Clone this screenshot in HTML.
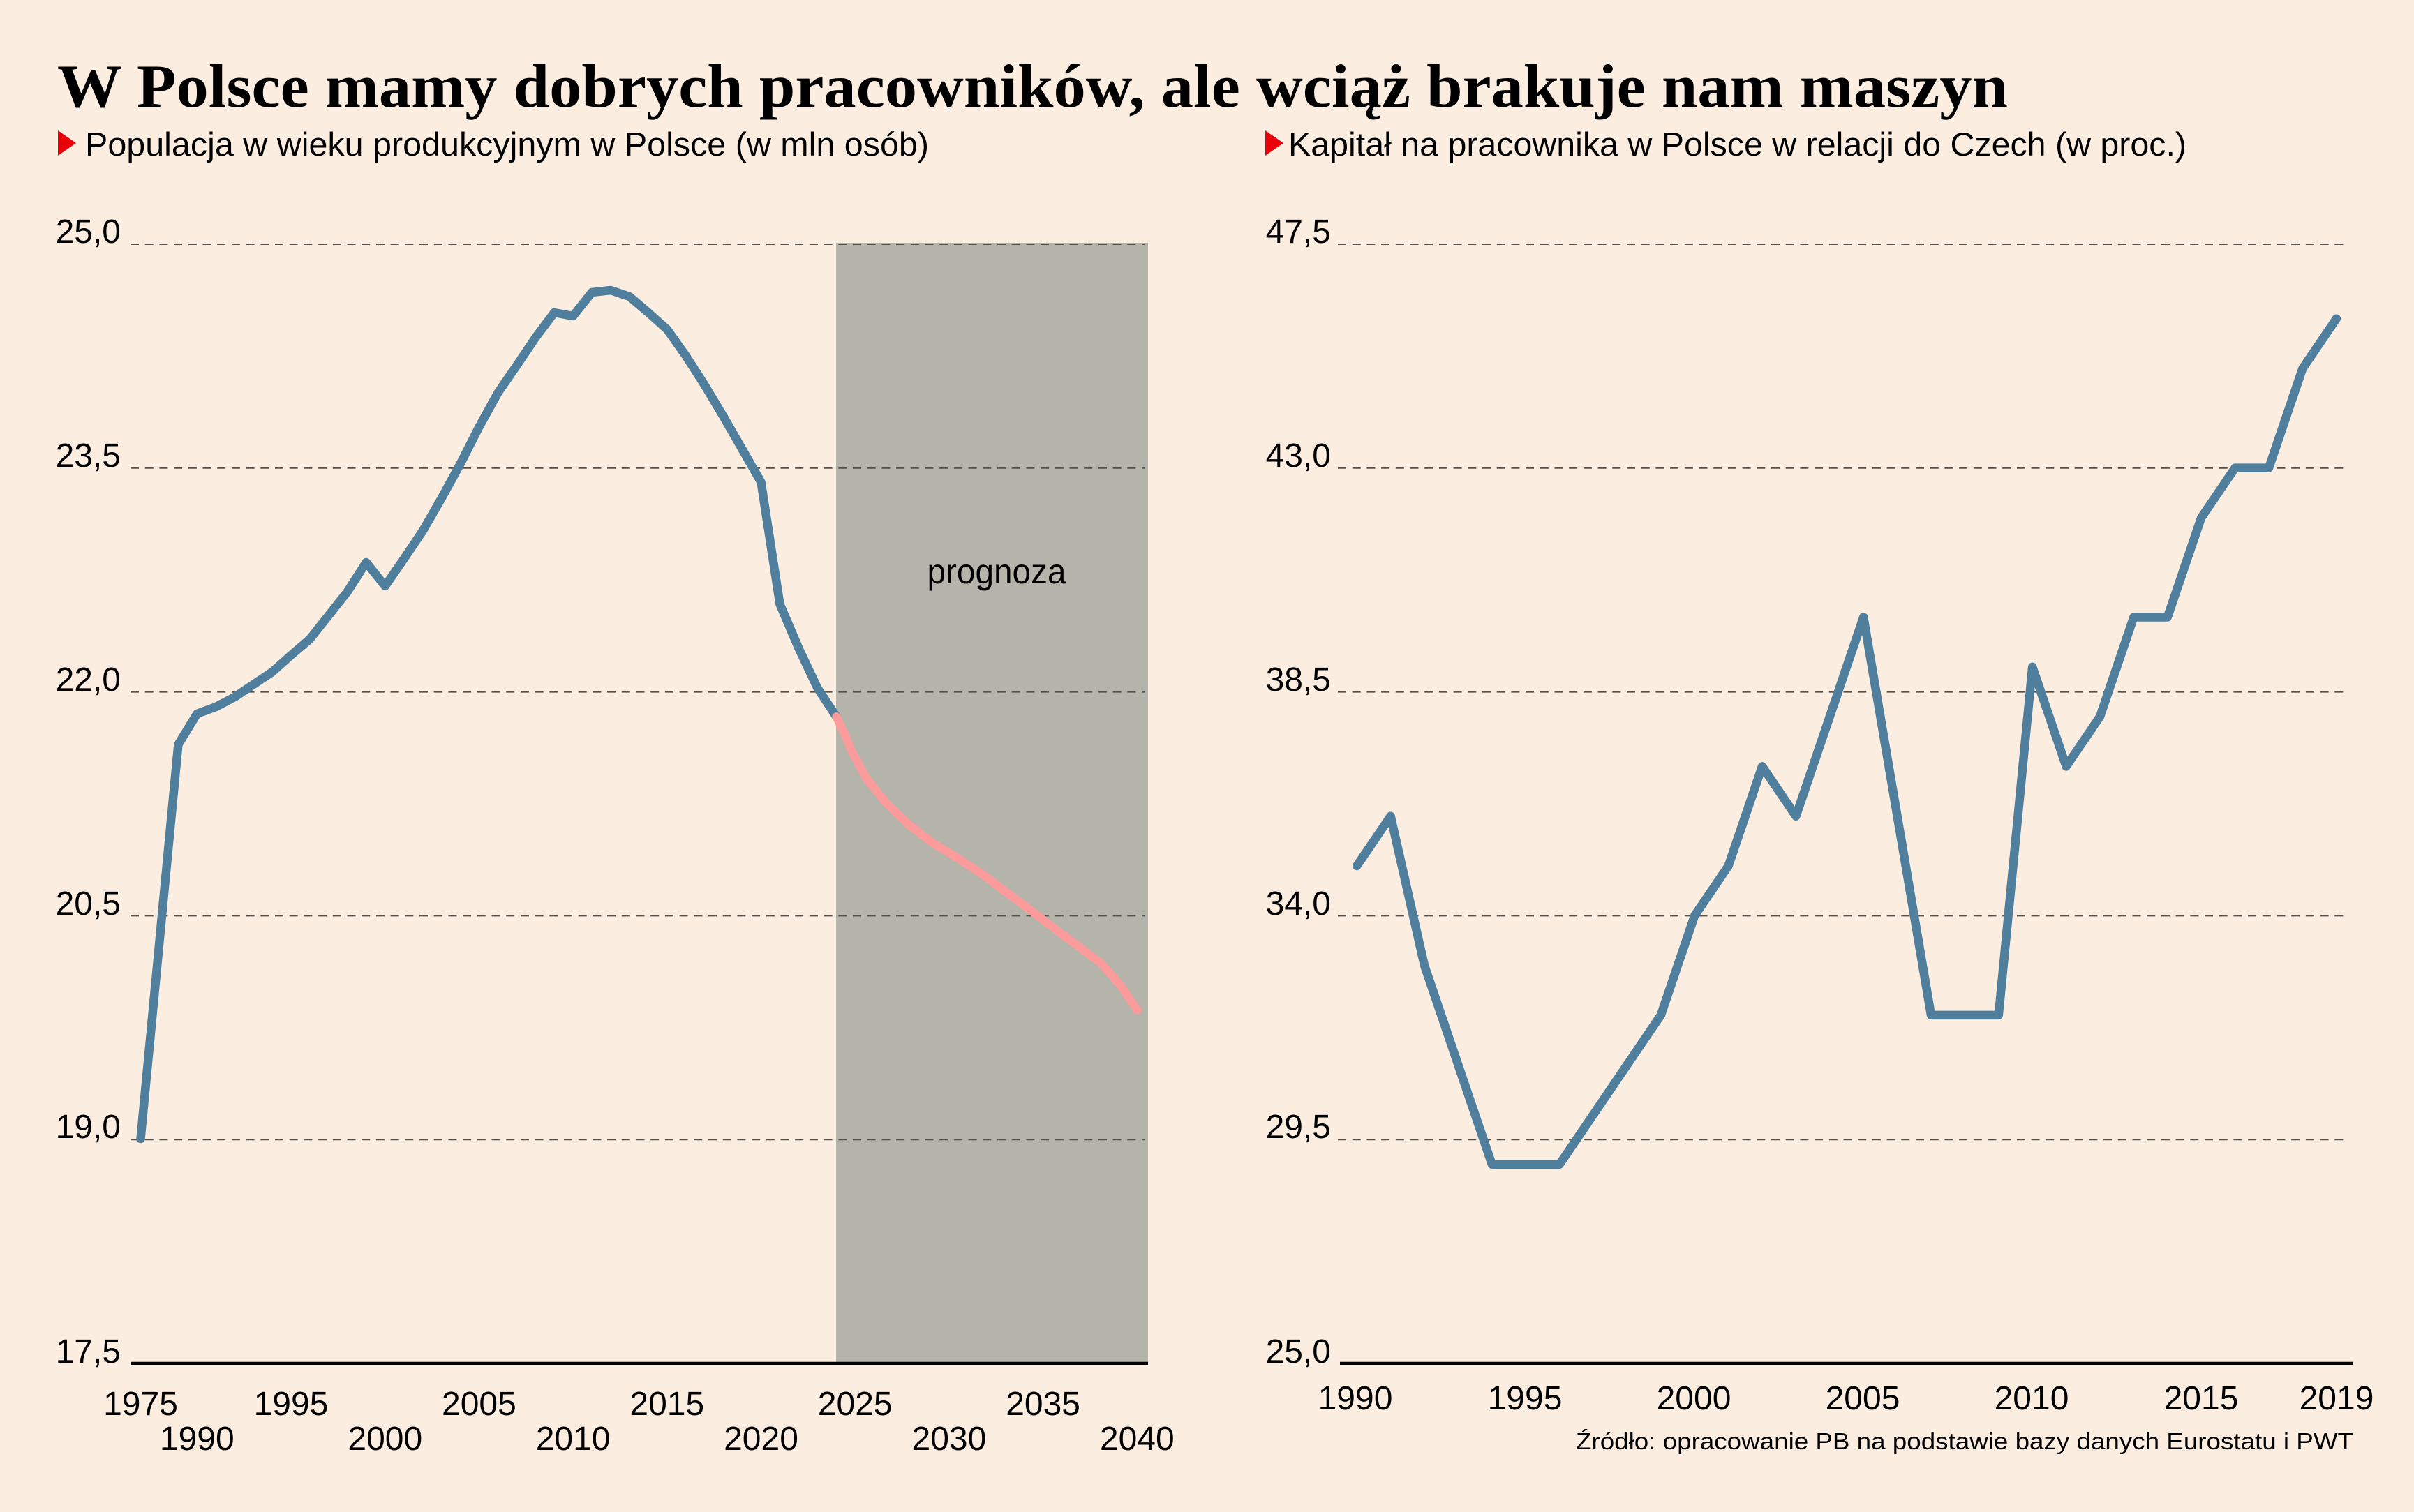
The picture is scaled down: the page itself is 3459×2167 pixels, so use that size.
<!DOCTYPE html>
<html>
<head>
<meta charset="utf-8">
<style>
html,body{margin:0;padding:0;background:#fbeee1;}
svg{display:block;}
text{font-family:"Liberation Sans",sans-serif;fill:#000;}
</style>
</head>
<body>
<svg width="3459" height="2167" viewBox="0 0 3459 2167" xmlns="http://www.w3.org/2000/svg">
<rect x="0" y="0" width="3459" height="2167" fill="#fbeee1"/>

<!-- Title -->
<text x="82" y="153" font-weight="bold" font-size="88" textLength="2795" lengthAdjust="spacingAndGlyphs" style="font-family:'Liberation Serif',serif">W Polsce mamy dobrych pracowników, ale wciąż brakuje nam maszyn</text>

<!-- Subtitles -->
<polygon points="83,187 109,205 83,223" fill="#e8000b"/>
<text x="122" y="223" font-size="47" textLength="1209" lengthAdjust="spacingAndGlyphs">Populacja w wieku produkcyjnym w Polsce (w mln osób)</text>
<polygon points="1813,187 1839,205 1813,223" fill="#e8000b"/>
<text x="1846" y="223" font-size="47" textLength="1287" lengthAdjust="spacingAndGlyphs">Kapitał na pracownika w Polsce w relacji do Czech (w proc.)</text>

<!-- LEFT CHART -->
<rect x="1198" y="348" width="447" height="1606" fill="#b4b4ab"/>
<g stroke="#555049" stroke-width="2" stroke-dasharray="12 8.7" fill="none">
  <line x1="187" y1="350" x2="1640" y2="350"/>
  <line x1="187" y1="670.8" x2="1640" y2="670.8"/>
  <line x1="187" y1="991.6" x2="1640" y2="991.6"/>
  <line x1="187" y1="1312.4" x2="1640" y2="1312.4"/>
  <line x1="187" y1="1633.2" x2="1640" y2="1633.2"/>
</g>
<g font-size="48" text-anchor="end">
  <text x="173" y="348">25,0</text>
  <text x="173" y="669">23,5</text>
  <text x="173" y="990">22,0</text>
  <text x="173" y="1311">20,5</text>
  <text x="173" y="1631">19,0</text>
  <text x="173" y="1953">17,5</text>
</g>
<text x="1428" y="836" font-size="50" text-anchor="middle" textLength="199" lengthAdjust="spacingAndGlyphs">prognoza</text>

<polyline fill="none" stroke="#4f7f9d" stroke-width="12.5" stroke-linejoin="round" stroke-linecap="round"
points="201.5,1632 255.4,1067 282.3,1023 309.3,1013 336.2,999 363.1,981 390.1,963 417,939 443.9,916 470.9,882 497.8,848 524.7,806 551.8,840 578.7,801 605.7,761 632.7,714 659.5,665 686.4,612 713.4,563 740.3,524 767.2,484 794.2,448 821.1,453 848.1,419 875,416 901.9,425 928.9,448 955.8,472 982.8,510 1009.7,552 1036.6,597 1063.6,644 1090.5,691 1117.5,866 1144.4,929 1171.3,986 1198.3,1027"/>
<polyline fill="none" stroke="#fc9b9b" stroke-width="12" stroke-linejoin="round" stroke-linecap="round"
points="1198.3,1027 1210,1052 1220,1076 1241,1115 1269,1150 1301,1181 1336,1208 1374,1231 1406,1252 1441,1278 1476,1304 1511,1331 1546,1357 1578,1381 1606,1413 1629.5,1448"/>

<line x1="188" y1="1954" x2="1645" y2="1954" stroke="#000" stroke-width="4.5"/>

<g font-size="48" text-anchor="middle">
  <text x="201.5" y="2028">1975</text>
  <text x="417" y="2028">1995</text>
  <text x="686.4" y="2028">2005</text>
  <text x="955.8" y="2028">2015</text>
  <text x="1225.2" y="2028">2025</text>
  <text x="1494.6" y="2028">2035</text>
  <text x="282.3" y="2078">1990</text>
  <text x="551.8" y="2078">2000</text>
  <text x="821.1" y="2078">2010</text>
  <text x="1090.5" y="2078">2020</text>
  <text x="1359.9" y="2078">2030</text>
  <text x="1629.3" y="2078">2040</text>
</g>

<!-- RIGHT CHART -->
<g stroke="#555049" stroke-width="2" stroke-dasharray="12 8.7" fill="none">
  <line x1="1917" y1="350" x2="3366" y2="350"/>
  <line x1="1917" y1="670.8" x2="3366" y2="670.8"/>
  <line x1="1917" y1="991.6" x2="3366" y2="991.6"/>
  <line x1="1917" y1="1312.4" x2="3366" y2="1312.4"/>
  <line x1="1917" y1="1633.2" x2="3366" y2="1633.2"/>
</g>
<g font-size="48" text-anchor="end">
  <text x="1907" y="348">47,5</text>
  <text x="1907" y="669">43,0</text>
  <text x="1907" y="990">38,5</text>
  <text x="1907" y="1311">34,0</text>
  <text x="1907" y="1631">29,5</text>
  <text x="1907" y="1953">25,0</text>
</g>

<polyline fill="none" stroke="#4f7f9d" stroke-width="12.5" stroke-linejoin="round" stroke-linecap="round"
points="1944.2,1241 1992.6,1169.7 2041,1383.6 2089.4,1526.2 2137.8,1668.8 2186.2,1668.8 2234.6,1668.8 2283,1597.5 2331.4,1526.2 2379.8,1454.9 2428.2,1312.3 2476.6,1241 2525,1098.4 2573.4,1169.7 2621.8,1027.1 2670.2,884.5 2718.6,1169.7 2767,1454.9 2815.4,1454.9 2863.8,1454.9 2912.2,955.8 2960.6,1098.4 3009,1027.1 3057.4,884.5 3105.8,884.5 3154.2,741.9 3202.6,670.6 3251,670.6 3299.4,528 3347.8,456.7"/>

<line x1="1920" y1="1954" x2="3372" y2="1954" stroke="#000" stroke-width="4.5"/>

<g font-size="48" text-anchor="middle">
  <text x="1942" y="2020">1990</text>
  <text x="2185" y="2020">1995</text>
  <text x="2427" y="2020">2000</text>
  <text x="2669" y="2020">2005</text>
  <text x="2911" y="2020">2010</text>
  <text x="3154" y="2020">2015</text>
  <text x="3348" y="2020">2019</text>
</g>

<text x="3372" y="2077" font-size="33" text-anchor="end" textLength="1114" lengthAdjust="spacingAndGlyphs">Źródło: opracowanie PB na podstawie bazy danych Eurostatu i PWT</text>
</svg>
</body>
</html>
